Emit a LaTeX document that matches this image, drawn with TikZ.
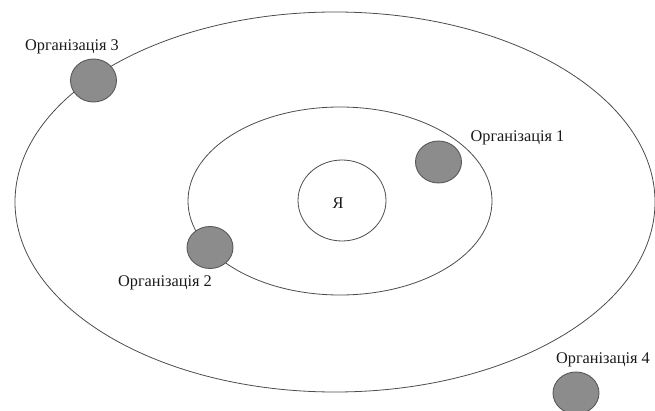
\documentclass[tikz,border=0pt]{standalone}
\usepackage{fontspec}
\setmainfont{Liberation Serif}
\begin{document}
\begin{tikzpicture}[x=1pt,y=-1pt,
  ring/.style={draw=black!70,line width=0.8pt},
  org/.style={draw=black!65,line width=0.9pt,fill=black!45},
  lbl/.style={font=\fontsize{16.3}{18}\selectfont,text=black!90,inner sep=0pt}]
\useasboundingbox (0,0) rectangle (655,411);
% rings around "Я"
\draw[ring] (335,202) ellipse [x radius=320,y radius=190];
\draw[ring] (340,201) ellipse [x radius=152,y radius=94];
\draw[ring] (342,200.5) ellipse [x radius=44,y radius=40.5];
\node[lbl] (me) at (338,203) {Я};
% organisations
\draw[org] (93.5,80.5) ellipse [x radius=23,y radius=21.5];
\draw[org] (438.5,162) ellipse [x radius=23,y radius=21];
\draw[org] (210,247.5) ellipse [x radius=23,y radius=21];
\draw[org] (576,393) ellipse [x radius=23,y radius=21];
\node[lbl] (l3) at (72,47) {Організація 3};
\node[lbl] (l1) at (517.5,138) {Організація 1};
\node[lbl] (l2) at (165,283) {Організація 2};
\node[lbl] (l4) at (603,360) {Організація 4};
\end{tikzpicture}
\end{document}
